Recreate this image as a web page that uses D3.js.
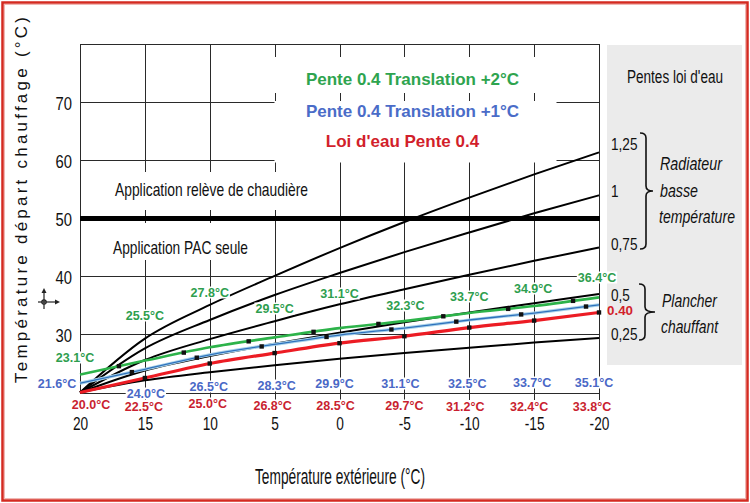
<!DOCTYPE html>
<html><head><meta charset="utf-8">
<script src="https://cdn.jsdelivr.net/npm/d3@7"></script>
<style>body{margin:0;background:#fff;overflow:hidden}</style>
</head><body><svg id="c" width="750" height="503"></svg>
<script>
// ---------- DATA ----------
const outsideTemps = [20, 15, 10, 5, 0, -5, -10, -15, -20];
const yTickValues = [30, 40, 50, 60, 70];
// black reference heating curves (slopes)
const slope125 = [20, 29.3, 35.1, 40.1, 44.9, 49.4, 53.6, 57.6, 61.4];
const slope100 = [20, 27.6, 32.5, 36.8, 40.6, 44.2, 47.6, 50.9, 54.0];
const slope075 = [20, 25.6, 29.2, 32.3, 35.2, 37.8, 40.3, 42.7, 45.0];
const slope050 = [20, 23.8, 26.3, 28.4, 30.3, 32.1, 33.8, 35.4, 37.0];
const slope025 = [20, 22.1, 23.5, 24.7, 25.8, 26.8, 27.7, 28.6, 29.4];
// coloured curves
const loiDeau04 = [20.0, 22.5, 25.0, 26.8, 28.5, 29.7, 31.2, 32.4, 33.8];
const translation1 = [21.6, 24.0, 26.5, 28.3, 29.9, 31.1, 32.5, 33.7, 35.1];
const translation2 = [23.1, 25.5, 27.8, 29.5, 31.1, 32.3, 33.7, 34.9, 36.4];
// marker positions (outside temperature)
const redDotTemps = [15, 10, 5, 0, -5, -10, -15, -20];
const blueDotTemps = [16, 11, 6, 1, -4, -9, -14, -19];
const greenDotTemps = [17, 12, 7, 2, -3, -8, -13, -18];
const legendTitles = ["Pente 0.4 Translation +2°C", "Pente 0.4 Translation +1°C", "Loi d'eau Pente 0.4"];
const slopeLabels = ["1,25", "1", "0,75", "0,5", "0,25"];
const redSlopeLabel = "0.40";

// ---------- LAYOUT ----------
const ARIAL = "'Liberation Sans',Arial,sans-serif";
const GREEN = "#2ea44f", BLUE = "#4a6cc8", RED = "#d21f2b";
const greenLabelPos = {dx: [-5, 0, 0, 0, 0, 1, 0, -1, -2], y: [357, 315, 292, 308, 293, 305, 296, 288, 277]};
const blueLabelPos = {dx: [-23, 1, -1, 2, -5, -4, -2, -2, -5], y: [383, 393, 386, 385, 383, 383, 383, 382, 382]};
const redLabelPos = {dx: [11, -1, -2, -2, -4, 0, -4, -5, -7], y: [404, 406, 403, 405, 405, 405, 406, 406, 406]};

const svg = d3.select("#c");
const x = d3.scaleLinear().domain([20, -20]).range([80, 599]);
const y = d3.scaleLinear().domain([20, 80]).range([392.5, 44.5]);

function condense(sel, f) {
  sel.each(function () {
    const w = this.getComputedTextLength();
    d3.select(this).attr("textLength", w * f).attr("lengthAdjust", "spacingAndGlyphs");
  });
  return sel;
}
function ntext(txt, tx, ty, size, f, opts) {
  opts = opts || {};
  const t = svg.append("text").attr("x", tx).attr("y", ty).text(txt)
    .attr("font-family", ARIAL).attr("font-size", size).attr("fill", opts.color || "#111")
    .attr("text-anchor", opts.anchor || "start").attr("font-style", opts.style || "normal")
    .attr("font-weight", opts.weight || "normal");
  if (opts.width) t.attr("textLength", opts.width).attr("lengthAdjust", "spacingAndGlyphs");
  else if (f) condense(t, f);
  return t;
}

// outer frame
svg.append("rect").attr("x", 2.5).attr("y", 2.5).attr("width", 745).attr("height", 498)
  .attr("fill", "#fff").attr("stroke", "#d42a20").attr("stroke-width", 2.5);
svg.append("rect").attr("x", 4.5).attr("y", 4.5).attr("width", 741).attr("height", 494)
  .attr("fill", "none").attr("stroke", "#f0b8b4").attr("stroke-width", 1);

// right gray panel
svg.append("rect").attr("x", 607).attr("y", 45).attr("width", 135).attr("height", 320).attr("fill", "#ebebeb");

const grid = svg.append("g").attr("stroke", "#2a2a2a").attr("stroke-width", 1).attr("fill", "none");
grid.selectAll("line.v").data(outsideTemps).join("line")
  .attr("x1", d => Math.round(x(d)) + 0.5).attr("x2", d => Math.round(x(d)) + 0.5)
  .attr("y1", y(80)).attr("y2", (d, i) => (i === 0) ? y(20) : 400);
grid.selectAll("line.h").data(yTickValues.filter(v => v !== 50).concat([80])).join("line")
  .attr("x1", x(20)).attr("x2", x(-20) + 1).attr("y1", d => y(d)).attr("y2", d => y(d));
grid.append("line").attr("x1", x(20)).attr("x2", x(-20) + 1).attr("y1", 393.5).attr("y2", 393.5);

// white gaps for texts inside the plot
const gaps = [[270, 57, 282, 36], [274.5, 101, 282, 61.5], [110, 172, 202, 38], [108, 223, 146, 37]];
svg.selectAll("rect.gap").data(gaps).join("rect")
  .attr("x", d => d[0]).attr("y", d => d[1]).attr("width", d => d[2]).attr("height", d => d[3]).attr("fill", "#fff");

// thick 50 line
svg.append("line").attr("x1", x(20)).attr("x2", x(-20) + 1).attr("y1", y(50)).attr("y2", y(50))
  .attr("stroke", "#000").attr("stroke-width", 5);

// axes labels
const xAxis = svg.append("g").attr("transform", "translate(0,430)")
  .call(d3.axisBottom(x).tickValues(outsideTemps).tickSize(0).tickFormat(d => String(d)));
xAxis.select(".domain").remove();
xAxis.selectAll("text").attr("y", 0).attr("dy", null)
  .attr("font-family", ARIAL).attr("font-size", 18.5).attr("fill", "#111");
condense(xAxis.selectAll("text"), 0.74);

const yAxis = svg.append("g").attr("transform", "translate(80,0)")
  .call(d3.axisLeft(y).tickValues(yTickValues).tickSize(0).tickPadding(8));
yAxis.select(".domain").remove();
yAxis.selectAll("text").attr("dy", "0.38em")
  .attr("font-family", ARIAL).attr("font-size", 18.5).attr("fill", "#111");
condense(yAxis.selectAll("text"), 0.8);

// black slope curves
const line = d3.line().x((d, i) => x(outsideTemps[i])).y(d => y(d)).curve(d3.curveMonotoneX);
svg.append("g").selectAll("path").data([slope125, slope100, slope075, slope050, slope025]).join("path")
  .attr("d", line).attr("fill", "none").attr("stroke", "#000").attr("stroke-width", 2);

// coloured curves
svg.append("path").attr("d", line(translation1)).attr("fill", "none").attr("stroke", "#a9d3ea").attr("stroke-width", 3.2);
svg.append("path").attr("d", line(translation1)).attr("fill", "none").attr("stroke", "#2f72bd").attr("stroke-width", 1.3);
svg.append("path").attr("d", line(translation2)).attr("fill", "none").attr("stroke", "#2db34a").attr("stroke-width", 2.6);
svg.append("path").attr("d", line(loiDeau04)).attr("fill", "none").attr("stroke", "#ec1c24").attr("stroke-width", 3.2);

// markers
function interp(series) { return d3.scaleLinear().domain(outsideTemps).range(series); }
[[loiDeau04, redDotTemps], [translation1, blueDotTemps], [translation2, greenDotTemps]].forEach(([s, temps]) => {
  const f = interp(s);
  svg.append("g").selectAll("rect").data(temps).join("rect")
    .attr("x", d => x(d) - 2.2).attr("y", d => y(f(d)) - 2.2).attr("width", 4.4).attr("height", 4.4).attr("fill", "#111");
});

// value labels with white background
function bgText(txt, cx, baseY, opts) {
  const g = svg.append("g");
  const t = g.append("text").attr("x", cx).attr("y", baseY).text(txt)
    .attr("text-anchor", opts.anchor || "middle").attr("font-family", opts.font || ARIAL)
    .attr("font-size", opts.size).attr("font-weight", opts.weight || "normal").attr("fill", opts.color);
  if (opts.bg) {
    const b = t.node().getBBox();
    g.insert("rect", "text").attr("x", b.x - 1).attr("y", b.y + 1).attr("width", b.width + 2).attr("height", b.height - 2).attr("fill", "#fff");
  }
  return t;
}
const fmt = d => d.toFixed(1) + "°C";
[[translation2, greenLabelPos, "#2e9e4e"], [translation1, blueLabelPos, "#4a68c6"], [loiDeau04, redLabelPos, "#c91f30"]].forEach(([s, pos, col]) => {
  s.forEach((v, i) => bgText(fmt(v), x(outsideTemps[i]) + pos.dx[i], pos.y[i] + 4.5, {size: 12.5, weight: "bold", color: col, bg: true}));
});

// legend titles
const legendCols = [GREEN, BLUE, RED];
const legendPos = [[412.5, 85], [412.5, 117], [402.5, 146.5]];
legendTitles.forEach((t, i) => bgText(t, legendPos[i][0], legendPos[i][1], {size: 17, weight: "bold", color: legendCols[i]}));

// zone texts
ntext("Application relève de chaudière", 115, 196, 18.5, 0, {width: 193});
ntext("Application PAC seule", 113, 254, 18.5, 0, {width: 135});

// axis titles
svg.append("text").attr("transform", "translate(27,200) rotate(-90)").attr("text-anchor", "middle")
  .text("Température départ chauffage (°C)").attr("font-family", ARIAL).attr("font-size", 17).attr("fill", "#111")
  .attr("textLength", 366).attr("lengthAdjust", "spacing");
ntext("Température extérieure (°C)", 340, 484, 22, 0, {anchor: "middle", width: 170});

// right panel texts
ntext("Pentes loi d'eau", 675, 83, 17.5, 0, {anchor: "middle", width: 96});
const slopeLabelY = [150, 197, 250, 301, 340];
slopeLabels.forEach((t, i) => ntext(t, 611, slopeLabelY[i], 17, 0.8));
ntext(redSlopeLabel, 607, 314.5, 12.5, 0, {color: RED, weight: "bold", width: 26});
[["Radiateur", 660, 170, 62], ["basse", 660, 197, 38], ["température", 659, 223, 76], ["Plancher", 662, 306.5, 55], ["chauffant", 661, 332.5, 57]]
  .forEach(([t, tx, ty, w]) => ntext(t, tx, ty, 18, 0, {style: "italic", width: w}));

function brace(x0, y0, y1, tip) {
  const xm = x0 + 6, ym = (y0 + y1) / 2, r = 5;
  return `M${x0},${y0} Q${xm},${y0} ${xm},${y0 + r} L${xm},${ym - r} Q${xm},${ym} ${tip},${ym} Q${xm},${ym} ${xm},${ym + r} L${xm},${y1 - r} Q${xm},${y1} ${x0},${y1}`;
}
svg.append("path").attr("d", brace(640, 133, 249, 653)).attr("fill", "none").attr("stroke", "#111").attr("stroke-width", 1.6);
svg.append("path").attr("d", brace(639, 284, 340, 655)).attr("fill", "none").attr("stroke", "#111").attr("stroke-width", 1.6);

// small move icon near y axis
const ic = svg.append("g").attr("stroke", "#222").attr("stroke-width", 1.2).attr("fill", "#222");
ic.append("line").attr("x1", 44).attr("y1", 292).attr("x2", 44).attr("y2", 309);
ic.append("line").attr("x1", 38).attr("y1", 302).attr("x2", 58).attr("y2", 302);
ic.append("path").attr("d", "M44,288 L41.5,293 L46.5,293 Z").attr("stroke", "none");
ic.append("path").attr("d", "M60,302 L55,299.5 L55,304.5 Z").attr("stroke", "none");
ic.append("circle").attr("cx", 44).attr("cy", 302).attr("r", 2.2).attr("fill", "none");
</script></body></html>
